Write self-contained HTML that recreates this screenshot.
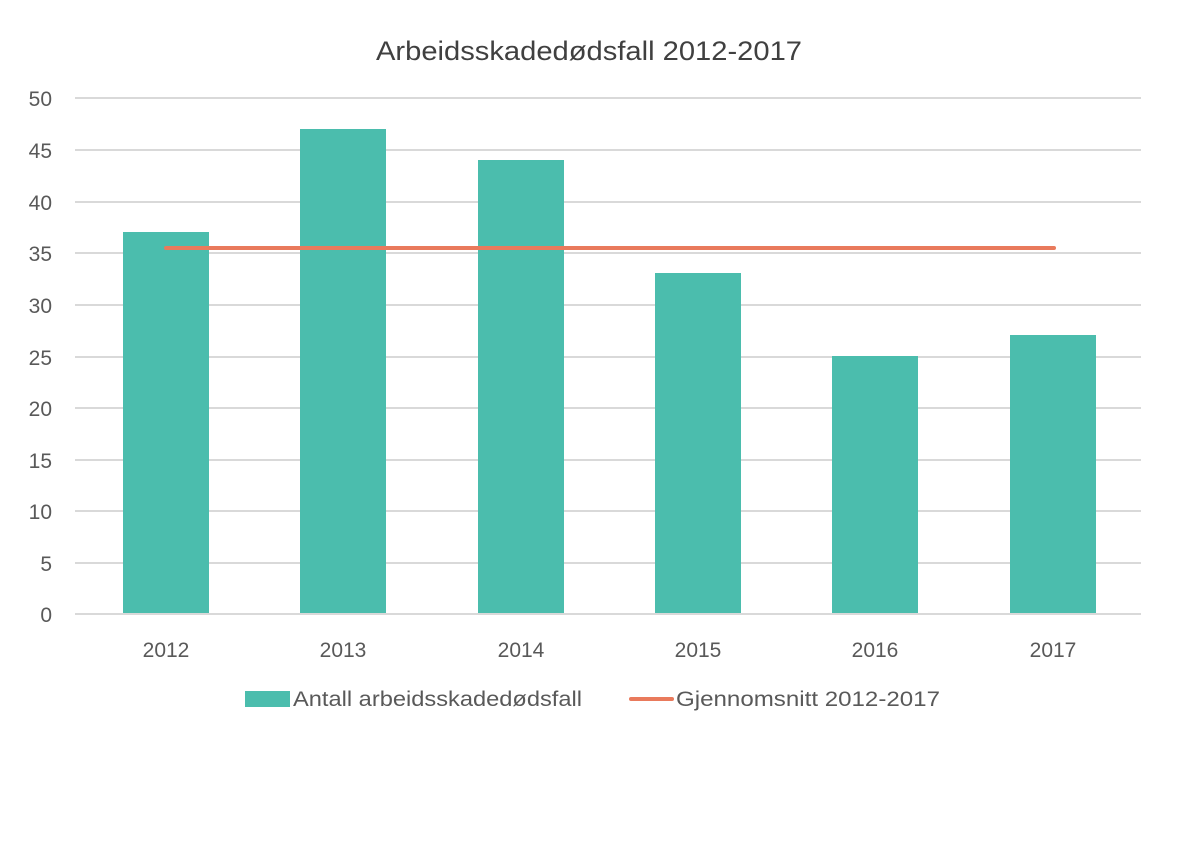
<!DOCTYPE html>
<html><head><meta charset="utf-8"><style>
html,body{margin:0;padding:0;background:#fff;}
svg{display:block;font-family:"Liberation Sans","DejaVu Sans",sans-serif;}
</style></head><body>
<svg width="1200" height="850" viewBox="0 0 1200 850">
<rect width="1200" height="850" fill="#fff"/>
<text x="376" y="60" font-size="27" fill="#404040" textLength="426" lengthAdjust="spacingAndGlyphs">Arbeidsskadedødsfall 2012-2017</text>
<g stroke="#d9d9d9" stroke-width="2">
<line x1="75" x2="1141" y1="98" y2="98"/>
<line x1="75" x2="1141" y1="150" y2="150"/>
<line x1="75" x2="1141" y1="202" y2="202"/>
<line x1="75" x2="1141" y1="253" y2="253"/>
<line x1="75" x2="1141" y1="305" y2="305"/>
<line x1="75" x2="1141" y1="357" y2="357"/>
<line x1="75" x2="1141" y1="408" y2="408"/>
<line x1="75" x2="1141" y1="460" y2="460"/>
<line x1="75" x2="1141" y1="511" y2="511"/>
<line x1="75" x2="1141" y1="563" y2="563"/>
</g>
<g fill="#4bbdad">
<rect x="123" y="232" width="86" height="382"/>
<rect x="300" y="129" width="86" height="485"/>
<rect x="478" y="160" width="86" height="454"/>
<rect x="655" y="273" width="86" height="341"/>
<rect x="832" y="356" width="86" height="258"/>
<rect x="1010" y="335" width="86" height="279"/>
</g>
<line x1="75" x2="1141" y1="614" y2="614" stroke="#d9d9d9" stroke-width="2"/>
<line x1="166" x2="1054" y1="248" y2="248" stroke="#e97a5c" stroke-width="4" stroke-linecap="round"/>
<g font-size="21" fill="#595959" text-anchor="end">
<text x="52" y="106">50</text><text x="52" y="158">45</text><text x="52" y="210">40</text>
<text x="52" y="261">35</text><text x="52" y="313">30</text><text x="52" y="365">25</text>
<text x="52" y="416">20</text><text x="52" y="468">15</text><text x="52" y="519">10</text>
<text x="52" y="571">5</text><text x="52" y="622">0</text>
</g>
<g font-size="21" fill="#595959" text-anchor="middle">
<text x="166" y="657">2012</text><text x="343" y="657">2013</text><text x="521" y="657">2014</text>
<text x="698" y="657">2015</text><text x="875" y="657">2016</text><text x="1053" y="657">2017</text>
</g>
<rect x="245" y="691" width="45" height="16" fill="#4bbdad"/>
<text x="293" y="706" font-size="21" fill="#595959" textLength="289" lengthAdjust="spacingAndGlyphs">Antall arbeidsskadedødsfall</text>
<line x1="631" x2="672" y1="699" y2="699" stroke="#e97a5c" stroke-width="4" stroke-linecap="round"/>
<text x="676" y="706" font-size="21" fill="#595959" textLength="264" lengthAdjust="spacingAndGlyphs">Gjennomsnitt 2012-2017</text>
</svg>
</body></html>
